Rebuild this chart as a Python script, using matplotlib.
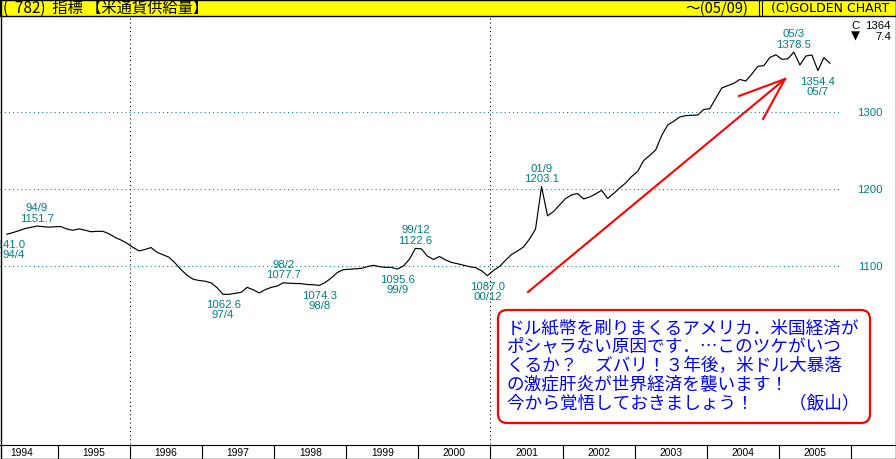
import matplotlib
matplotlib.use("Agg")
import matplotlib.pyplot as plt
from matplotlib.patches import Rectangle, FancyBboxPatch
from matplotlib.lines import Line2D

# ---------------- data ----------------
start_year = 1994
start_month = 4
values = [
    1141.0, 1143.2, 1145.6, 1148.4, 1150.1, 1151.7, 1151.0, 1150.2, 1150.8,
    1151.1, 1147.8, 1146.2, 1148.0, 1146.3, 1144.3, 1144.8, 1144.8, 1141.6, 1136.9, 1133.5, 1129.2,
    1123.9, 1119.2, 1121.1, 1123.7, 1117.5, 1114.3, 1111.0, 1103.5, 1094.9, 1087.5, 1082.4, 1080.7,
    1079.8, 1077.7, 1071.3, 1062.6, 1062.7, 1064.0, 1065.3, 1071.8, 1068.7, 1064.5, 1068.8, 1071.7,
    1073.5, 1077.7, 1077.1, 1076.9, 1076.6, 1075.5, 1075.2, 1074.3, 1078.1, 1084.0, 1091.1, 1094.8,
    1095.4, 1096.0, 1096.5, 1098.8, 1100.5, 1098.8, 1097.9, 1097.9, 1095.6, 1099.6, 1108.3, 1122.6,
    1121.9, 1112.6, 1108.1, 1112.0, 1107.7, 1104.3, 1102.6, 1100.6, 1098.7, 1097.5, 1093.5, 1087.0,
    1093.7, 1099.0, 1107.0, 1114.5, 1119.2, 1124.4, 1134.8, 1147.8, 1203.1, 1165.0, 1170.7, 1179.1,
    1187.6, 1192.2, 1194.1, 1187.0, 1189.6, 1193.5, 1198.3, 1187.6, 1194.1, 1201.3, 1207.8, 1216.3,
    1222.8, 1237.2, 1243.7, 1250.9, 1269.8, 1283.4, 1288.3, 1293.9, 1295.7, 1296.1, 1296.5, 1303.7,
    1304.6, 1318.3, 1331.7, 1334.7, 1337.8, 1342.8, 1340.8, 1349.9, 1360.0, 1360.8, 1371.5, 1375.0,
    1369.1, 1369.8, 1378.5, 1361.7, 1373.4, 1374.7, 1354.4, 1371.4, 1364.0,
]
years = list(range(1994, 2006))
y_ticks = [1100, 1200, 1300]
marks_above = ["94/9", "98/2", "99/12", "01/9", "05/3"]
marks_below = ["97/4", "98/8", "99/9", "00/12", "05/7"]
mark_left = "94/4"

title_left = "(  782)  指標 【米通貨供給量】"
title_right = "～(05/09)"
copyright_txt = "(C)GOLDEN CHART"
comment_lines = [
    "ドル紙幣を刷りまくるアメリカ．米国経済が",
    "ポシャラない原因です．…このツケがいつ",
    "くるか？　ズバリ！３年後，米ドル大暴落",
    "の激症肝炎が世界経済を襲います！",
    "今から覚悟しておきましょう！　　（飯山）",
]

# ---------------- derived ----------------
tpos, dlabels = [], []
y, m = start_year, start_month
for v in values:
    tpos.append((y - 1994) * 12 + (m - 1) + 0.5)
    dlabels.append(f"{y % 100:02d}/{m}")
    m += 1
    if m > 12:
        m = 1
        y += 1

W, H = 896, 460
PXM = 6.008      # px per month
X0 = -14.2       # px of Jan 1994
PXV = 0.767      # px per unit
Y1200 = 190.0

fig = plt.figure(figsize=(W / 100, H / 100), dpi=100)
fig.patch.set_facecolor("white")
ax = fig.add_axes([0, 0, 1, 1])
ax.set_xlim((0 - X0) / PXM, (W - X0) / PXM)
ax.set_ylim(1200 - (H - Y1200) / PXV, 1200 + Y1200 / PXV)
ax.axis("off")

teal = "#008080"
lblfont = ["Liberation Sans", "DejaVu Sans"]
LFS = 8.2

# grid
t_grid_end = (840 - X0) / PXM
for g in y_ticks:
    ax.plot([ax.get_xlim()[0], t_grid_end], [g, g], color=teal, lw=0.75,
            linestyle=(0, (1, 3)), zorder=1)
    ax.text(870 / W, g, str(g), transform=ax.get_yaxis_transform(),
            ha="center", va="center", color=teal, fontsize=LFS, family=lblfont)
for yr in (1996, 2001):
    ax.axvline((yr - 1994) * 12, ymin=(H - 445) / H, ymax=(H - 18) / H,
               color="black", lw=0.75, linestyle=(0, (1, 3)), zorder=1)

# series
ax.plot(tpos, values, color="black", lw=0.85, zorder=3)

def txt(s, t, v, dx, dy, ha="center"):
    ax.annotate(s, (t, v), xytext=(dx, dy), textcoords="offset pixels",
                ha=ha, va="center", color=teal, fontsize=LFS, family=lblfont)

def mark(lbl, where):
    i = dlabels.index(lbl)
    t, v = tpos[i], values[i]
    if where == "above":
        txt(lbl, t, v, 0, 19)
        txt(f"{v:.1f}", t, v, 0, 8.5)
    elif where == "below":
        txt(f"{v:.1f}", t, v, 0, -10)
        txt(lbl, t, v, 0, -20)
    else:
        txt(f"{v:.1f}", t, v, 18, -10, ha="right")
        txt(lbl, t, v, 18, -20, ha="right")

for l in marks_above:
    mark(l, "above")
for l in marks_below:
    mark(l, "below")
mark(mark_left, "left")

# ---------------- overlay (pixel coords) ----------------
ov = fig.add_axes([0, 0, 1, 1], zorder=5)
ov.set_xlim(0, W)
ov.set_ylim(H, 0)
ov.axis("off")
ov.patch.set_alpha(0)

# last value box
last, prev = values[-1], values[-2]
ov.text(851, 26, "C", fontsize=LFS, family=lblfont, va="center", ha="left")
ov.text(891, 26, f"{last:.0f}", fontsize=LFS, family=lblfont, va="center", ha="right")
ov.text(851, 36.5, "▼" if last < prev else "▲", fontsize=8.5, family=["DejaVu Sans"],
        va="center", ha="left")
ov.text(891, 36.5, f"{abs(last - prev):.1f}", fontsize=LFS, family=lblfont,
        va="center", ha="right")

# header
ov.add_patch(Rectangle((0, 0), W, 17, facecolor="#ffff00", edgecolor="black", lw=1))
cjk = ["Noto Sans CJK JP", "DejaVu Sans"]
ov.text(3, 8.5, title_left, fontsize=11, family=cjk, va="center", ha="left")
ov.text(748, 8.5, title_right, fontsize=10.5, family=cjk, va="center", ha="right")
ov.text(771, 8.5, copyright_txt, fontsize=9.0, family=["DejaVu Sans"], va="center",
        ha="left")
for xx in (759, 762):
    ov.add_line(Line2D([xx, xx], [0, 17], color="black", lw=0.8))

# year strip
ov.add_line(Line2D([0, W], [445.5, 445.5], color="black", lw=0.8))
for yr in years + [2006]:
    xx = X0 + (yr - 1994) * 12 * PXM
    if 0 < xx < W:
        ov.add_line(Line2D([xx, xx], [445.5, 460], color="black", lw=0.8))
for yr in years:
    xc = X0 + ((yr - 1994) * 12 + 6) * PXM
    ov.text(max(xc, 22), 453, str(yr), fontsize=7.4,
            family=["Liberation Sans", "DejaVu Sans"],
            ha="center", va="center")

# outer frame
ov.add_patch(Rectangle((0.5, 0.5), W - 1, H - 1, fill=False, edgecolor="black", lw=1))

# arrow
red = "#ff0000"
tip = (785, 80)
ov.add_line(Line2D([528, tip[0]], [293, tip[1]], color=red, lw=1.5))
ov.add_line(Line2D([739, tip[0]], [97, tip[1]], color=red, lw=1.5))
ov.add_line(Line2D([763, tip[0]], [120, tip[1]], color=red, lw=1.5))

# comment box
ov.add_patch(FancyBboxPatch((498, 311), 372, 113,
                            boxstyle="round,pad=0,rounding_size=9",
                            facecolor="white", edgecolor=red, lw=1.6))
for k, line in enumerate(comment_lines):
    ov.text(507, 328 + k * 18.8, line, fontsize=12.7, family=cjk, color="#0000ff",
            va="center", ha="left")

fig.savefig("out.png", dpi=100)
